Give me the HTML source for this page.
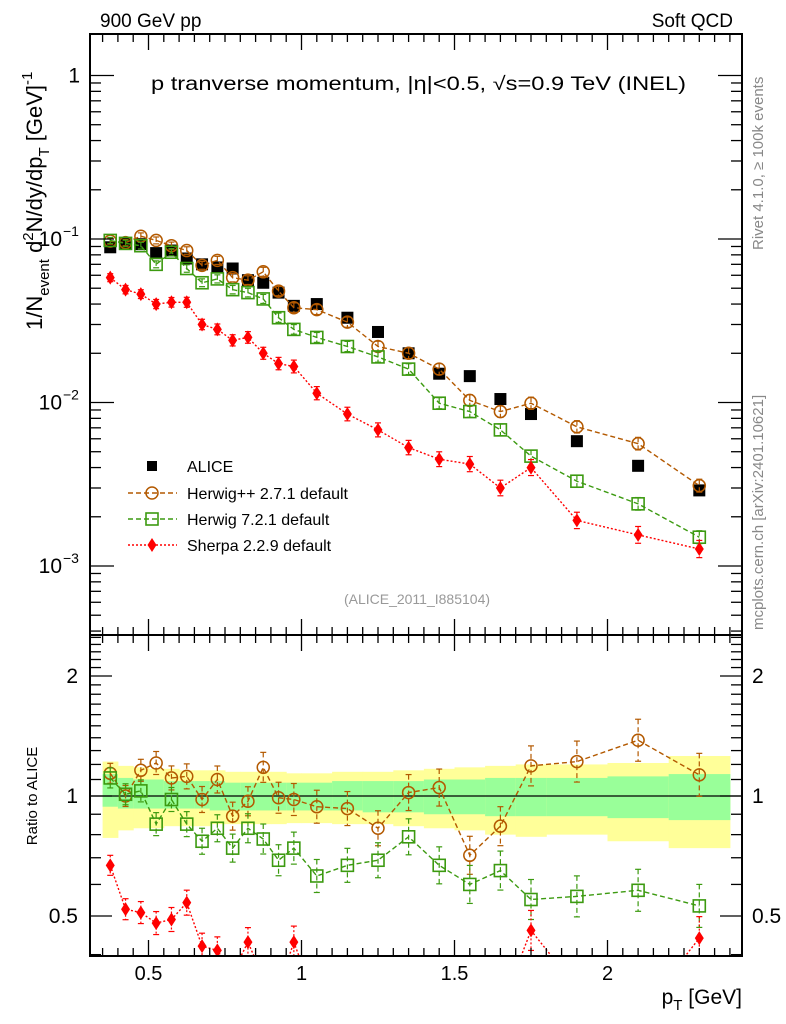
<!DOCTYPE html>
<html><head><meta charset="utf-8"><style>
html,body{margin:0;padding:0;background:#fff;}
svg{display:block;font-family:"Liberation Sans",sans-serif;}
</style></head><body>
<svg id="chart" width="786" height="1024" viewBox="0 0 786 1024" xmlns="http://www.w3.org/2000/svg">
<defs>
<clipPath id="clipmain"><rect x="90" y="34" width="652" height="601"/></clipPath>
<clipPath id="clipratio"><rect x="90" y="635" width="652" height="321"/></clipPath>
</defs>
<g id="gbands" clip-path="url(#clipratio)"></g>
<g id="gmarks"></g>
<g id="gaxes"></g>
<text x="100" y="27" font-size="19">900 GeV pp</text>
<text x="733" y="27" font-size="19" text-anchor="end">Soft QCD</text>
<text x="151" y="90" font-size="19" textLength="535" lengthAdjust="spacingAndGlyphs">p tranverse momentum, |η|&lt;0.5, √s=0.9 TeV (INEL)</text>
<text x="417" y="604" font-size="14" fill="#999" text-anchor="middle">(ALICE_2011_I885104)</text>
<text transform="translate(763,250) rotate(-90)" font-size="15" fill="#888">Rivet 4.1.0, ≥ 100k events</text>
<text transform="translate(763,630) rotate(-90)" font-size="15" fill="#888">mcplots.cern.ch [arXiv:2401.10621]</text>
<text transform="translate(42,330) rotate(-90)" font-size="22">1/N<tspan font-size="15" dy="7">event</tspan><tspan dy="-7"> d</tspan><tspan font-size="15" dy="-9">2</tspan><tspan dy="9">N/dy/dp</tspan><tspan font-size="15" dy="7">T</tspan><tspan dy="-7">  [GeV]</tspan><tspan font-size="15" dy="-10">-1</tspan></text>
<text transform="translate(37,796) rotate(-90)" font-size="15" text-anchor="middle">Ratio to ALICE</text>
<text x="742" y="1004" font-size="21" text-anchor="end">p<tspan font-size="15" dy="6">T</tspan><tspan dy="-6"> [GeV]</tspan></text>
<g id="glegend"></g>
</svg>
<script>
var ptBins = [0.375,0.425,0.475,0.525,0.575,0.625,0.675,0.725,0.775,0.825,0.875,0.925,0.975,1.05,1.15,1.25,1.35,1.45,1.55,1.65,1.75,1.9,2.1,2.3];
var aliceVals = [0.089,0.094,0.093,0.082,0.085,0.076,0.070,0.067,0.066,0.056,0.054,0.047,0.039,0.040,0.033,0.027,0.020,0.015,0.0145,0.0105,0.0085,0.0058,0.0041,0.0029];
var herwigppVals = [0.097,0.095,0.104,0.098,0.091,0.085,0.069,0.074,0.058,0.056,0.063,0.048,0.038,0.037,0.031,0.022,0.020,0.016,0.0103,0.0088,0.0099,0.0071,0.0056,0.0031];
var herwig7Vals = [0.098,0.094,0.091,0.070,0.083,0.066,0.054,0.057,0.049,0.047,0.043,0.033,0.028,0.025,0.022,0.019,0.016,0.0099,0.0088,0.0068,0.0047,0.0033,0.0024,0.0015];
var sherpaVals = [0.058,0.049,0.046,0.040,0.041,0.041,0.030,0.028,0.024,0.025,0.020,0.0173,0.0166,0.0114,0.0085,0.0068,0.0053,0.0045,0.0042,0.0030,0.0040,0.0019,0.00155,0.00127];
var herwigppRatio = [1.14,1.0,1.16,1.21,1.11,1.12,0.98,1.10,0.89,0.97,1.18,0.99,0.98,0.94,0.93,0.83,1.02,1.05,0.71,0.84,1.19,1.22,1.38,1.13];
var herwig7Ratio = [1.11,1.01,1.03,0.85,0.98,0.85,0.77,0.83,0.74,0.83,0.78,0.69,0.74,0.63,0.67,0.69,0.79,0.67,0.60,0.65,0.55,0.56,0.58,0.53];
var sherpaRatio = [0.67,0.52,0.51,0.48,0.49,0.54,0.42,0.41,0.36,0.43,0.35,0.33,0.43,0.30,0.28,0.27,0.27,0.30,0.30,0.29,0.46,0.33,0.28,0.44];
var binEdges = [0.35,0.4,0.45,0.5,0.55,0.6,0.65,0.7,0.75,0.8,0.85,0.9,0.95,1.0,1.1,1.2,1.3,1.4,1.5,1.6,1.7,1.8,2.0,2.2,2.4];
var yellowUp = [1.22,1.19,1.18,1.17,1.17,1.16,1.16,1.16,1.15,1.15,1.15,1.15,1.14,1.14,1.15,1.15,1.16,1.17,1.18,1.19,1.20,1.20,1.21,1.26];
var yellowLo = [0.785,0.82,0.83,0.83,0.84,0.84,0.84,0.85,0.85,0.85,0.85,0.85,0.855,0.855,0.85,0.85,0.84,0.83,0.82,0.80,0.79,0.80,0.77,0.74];
var greenUp = [1.135,1.11,1.10,1.10,1.09,1.09,1.09,1.09,1.08,1.08,1.08,1.08,1.08,1.08,1.09,1.09,1.09,1.10,1.10,1.11,1.11,1.11,1.12,1.135];
var greenLo = [0.94,0.93,0.93,0.93,0.93,0.93,0.93,0.92,0.92,0.92,0.92,0.92,0.92,0.92,0.92,0.91,0.91,0.90,0.90,0.89,0.89,0.89,0.88,0.87];
var mainTickLabels = ["1","10","10","10"];
var ratioTickVals = [2,1,0.5];
var xTickVals = [0.5,1,1.5,2];

(function(){
var NS="http://www.w3.org/2000/svg";
var X0=90,X1=742,MT=34,MB=635,RB=956;
function xs(p){return 148.5+(p-0.5)*306;}
function ym(v){return 75.5-163.5*Math.log(v)/Math.LN10;}
function yr(r){return 796-120*Math.log(r)/Math.LN2;}
function mk(tag,attrs,par){var e=document.createElementNS(NS,tag);for(var k in attrs){e.setAttribute(k,String(attrs[k]));}par.appendChild(e);return e;}
var gB=document.getElementById('gbands'), gM=document.getElementById('gmarks'), gA=document.getElementById('gaxes'), gL=document.getElementById('glegend');

try{
for(var i=0;i<binEdges.length-1;i++){
  var xa=xs(binEdges[i]), xb=xs(binEdges[i+1]);
  var r1=mk('rect',{x:xa,y:yr(yellowUp[i]),width:xb-xa+0.5,height:yr(yellowLo[i])-yr(yellowUp[i]),fill:'#ffff99'},gB);
  
  
  var r2=mk('rect',{x:xa,y:yr(greenUp[i]),width:xb-xa+0.5,height:yr(greenLo[i])-yr(greenUp[i]),fill:'#99ff99'},gB);
  
  
}
var oneLine=mk('line',{x1:X0,x2:X1,y1:yr(1),y2:yr(1),stroke:'#000','stroke-width':1.2},gB);


}catch(e){}

function marker(g,type,x,y,color){
  if(type==='sq') return mk('rect',{x:x-6,y:y-6,width:12,height:12,fill:'#000'},g);
  if(type==='circ') return mk('circle',{cx:x,cy:y,r:6,fill:'none',stroke:color,'stroke-width':1.5},g);
  if(type==='osq') return mk('rect',{x:x-6,y:y-6,width:12,height:12,fill:'none',stroke:color,'stroke-width':1.6},g);
  return mk('path',{d:'M'+x+','+(y-7)+'L'+(x+4.5)+','+y+'L'+x+','+(y+7)+'L'+(x-4.5)+','+y+'Z',fill:color},g);
}
function series(vals,yf,clip,type,color,dash,sname,err){
  var g=mk('g',{'clip-path':clip},gM);
  
  
  if(dash){
    var d='';
    for(var i=0;i<vals.length;i++){d+=(i?'L':'M')+xs(ptBins[i])+','+yf(vals[i]);}
    mk('path',{d:d,fill:'none',stroke:color,'stroke-width':1.4,'stroke-dasharray':dash},g);
  }
  for(var j=0;j<vals.length;j++){
    var x=xs(ptBins[j]),y=yf(vals[j]);
    if(err){var e=err*(1+j*0.05);
      var l=mk('line',{x1:x,x2:x,y1:y-e,y2:y+e,stroke:color,'stroke-width':1.2},g);
      if(dash)l.setAttribute('stroke-dasharray',dash);
      mk('line',{x1:x-3,x2:x+3,y1:y-e,y2:y-e,stroke:color,'stroke-width':1.2},g);
      mk('line',{x1:x-3,x2:x+3,y1:y+e,y2:y+e,stroke:color,'stroke-width':1.2},g);}
    var m=marker(g,type,x,y,color);
    
    
  }
}
try{
series(aliceVals,ym,'url(#clipmain)','sq','#000',null,'alice-data',0);
series(herwigppVals,ym,'url(#clipmain)','circ','#b35900','5,3','herwigpp-series',3);
series(herwig7Vals,ym,'url(#clipmain)','osq','#3c9a10','5,3','herwig7-series',3);
series(sherpaVals,ym,'url(#clipmain)','dia','#ff0000','2,2','sherpa-series',4);
series(herwigppRatio,yr,'url(#clipratio)','circ','#b35900','5,3','herwigpp-ratio',10);
series(herwig7Ratio,yr,'url(#clipratio)','osq','#3c9a10','5,3','herwig7-ratio',10);
series(sherpaRatio,yr,'url(#clipratio)','dia','#ff0000','2,2','sherpa-ratio',10);
}catch(e){}

function tick(x1,y1,x2,y2){mk('line',{x1:x1,y1:y1,x2:x2,y2:y2,stroke:'#000','stroke-width':1.3},gA);}
try{
var fr1=mk('rect',{x:X0,y:MT,width:X1-X0,height:MB-MT,fill:'none',stroke:'#000','stroke-width':2},gA);


var fr2=mk('rect',{x:X0,y:MB,width:X1-X0,height:RB-MB,fill:'none',stroke:'#000','stroke-width':2},gA);


for(var k=6;k<=48;k++){var p=k*0.05;var x=xs(p);if(x<X0||x>X1)continue;var L=(k%10===0)?16:8;
  tick(x,MT,x,MT+L);tick(x,MB,x,MB+L);tick(x,MB,x,MB-L);tick(x,RB,x,RB-L);}
for(var q=0;q<xTickVals.length;q++){var t=mk('text',{x:xs(xTickVals[q]),y:980,'font-size':20,'text-anchor':'middle'},gA);t.textContent=String(xTickVals[q]);
  
  }
for(var dd=0;dd>=-4;dd--){for(var mm=1;mm<=9;mm++){var yv=ym(mm*Math.pow(10,dd));if(yv<MT||yv>MB)continue;var LL=mm===1?24:11;
  tick(X0,yv,X0+LL,yv);tick(X1,yv,X1-LL,yv);}}
for(var ii=0;ii<4;ii++){var d2=-ii;var yy=ym(Math.pow(10,d2));
  var tl=mk('text',{x:d2===0?80:62,y:yy+7,'font-size':21,'text-anchor':'end'},gA);tl.textContent=mainTickLabels[ii];
  
  
  if(d2<0){var s=mk('text',{x:63,y:yy-3,'font-size':14},gA);s.textContent='\u2212'+(-d2);}
}
var rt=[0.4,0.5,0.6,0.7,0.8,0.9,1,1.1,1.2,1.3,1.4,1.5,1.6,1.7,1.8,1.9,2,2.1,2.2,2.3,2.4,2.5];
for(var a=0;a<rt.length;a++){var yr1=yr(rt[a]);if(yr1<MB||yr1>RB)continue;var mj=(rt[a]===0.5||rt[a]===1||rt[a]===2);var L2=mj?22:11;tick(X0,yr1,X0+L2,yr1);tick(X1,yr1,X1-L2,yr1);}
for(var b=0;b<ratioTickVals.length;b++){var y3=yr(ratioTickVals[b])+7;
  var t1=mk('text',{x:78,y:y3,'font-size':21,'text-anchor':'end'},gA);t1.textContent=String(ratioTickVals[b]);
  
  
  var t2=mk('text',{x:752,y:y3,'font-size':21},gA);t2.textContent=String(ratioTickVals[b]);
  
  }
}catch(e){}

try{
var items=[['ALICE','sq','#000',null],['Herwig++ 2.7.1 default','circ','#b35900','5,3'],['Herwig 7.2.1 default','osq','#3c9a10','5,3'],['Sherpa 2.2.9 default','dia','#ff0000','2,2']];
var legY=[466,493,519,545];
for(var n=0;n<items.length;n++){var it=items[n];var ly=legY[n];
  var g=mk('g',{},gL);
  
  
  if(it[3])mk('line',{x1:128,x2:177,y1:ly,y2:ly,stroke:it[2],'stroke-width':1.4,'stroke-dasharray':it[3]},g);
  if(it[1]==='sq')mk('rect',{x:147,y:ly-5,width:10,height:10,fill:'#000'},g);else marker(g,it[1],152,ly,it[2]);
  var lt=mk('text',{x:187,y:ly+6,'font-size':16},g);lt.textContent=it[0];}
}catch(e){}
})();
</script>
</body></html>
